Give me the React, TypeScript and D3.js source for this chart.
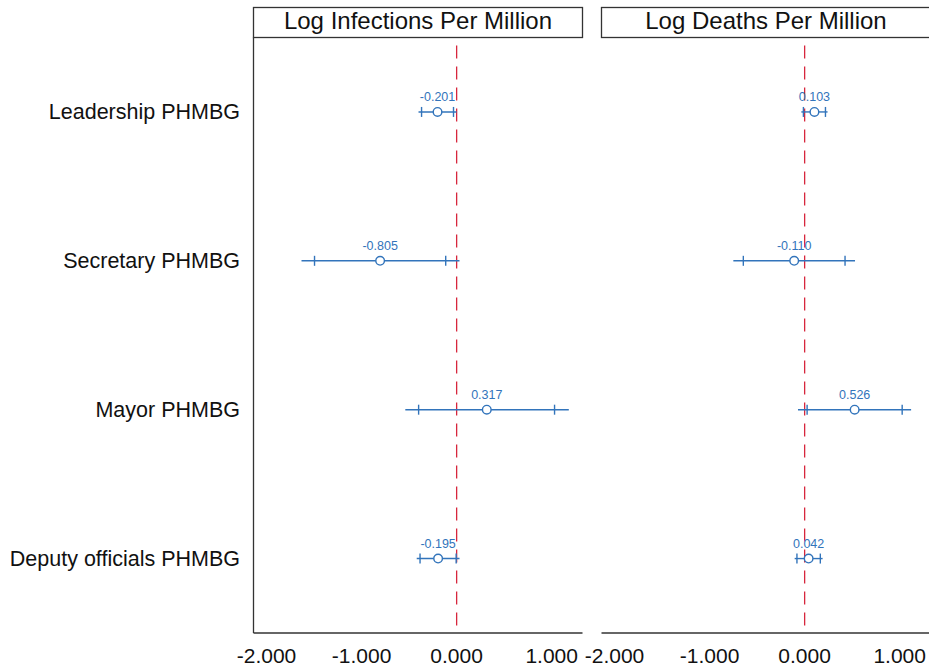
import React from "react";
import * as d3 from "d3";

const categories = ["Leadership PHMBG", "Secretary PHMBG", "Mayor PHMBG", "Deputy officials PHMBG"];
const panelTitles = ["Log Infections Per Million", "Log Deaths Per Million"];

const infCoef = [-0.201, -0.805, 0.317, -0.195];
const infLo95 = [-0.401, -1.632, -0.54, -0.42];
const infHi95 = [-0.001, 0.03, 1.18, 0.03];
const infLo90 = [-0.369, -1.495, -0.40, -0.385];
const infHi90 = [-0.033, -0.115, 1.03, -0.005];

const dthCoef = [0.103, -0.110, 0.526, 0.042];
const dthLo95 = [-0.035, -0.75, -0.07, -0.105];
const dthHi95 = [0.241, 0.53, 1.12, 0.189];
const dthLo90 = [-0.013, -0.645, 0.026, -0.081];
const dthHi90 = [0.219, 0.425, 1.026, 0.165];

const tickValues = [-2, -1, 0, 1];
const xDomain: [number, number] = [-2.137, 1.324];

const W = 929;
const H = 667;
const FONT = "'Liberation Sans', Arial, Helvetica, sans-serif";
const BLUE = "#3274bb";
const RED = "#d7263d";
const FRAME = "#333333";

const panels = [
  { title: panelTitles[0], coef: infCoef, lo95: infLo95, hi95: infHi95, lo90: infLo90, hi90: infHi90, x0: 253.5, x1: 582.5, leftAxis: true },
  { title: panelTitles[1], coef: dthCoef, lo95: dthLo95, hi95: dthHi95, lo90: dthLo90, hi90: dthHi90, x0: 601.5, x1: 930.5, leftAxis: false },
];

const headerTop = 7.5;
const plotTop = 37.5;
const plotBottom = 633;

const locale = d3.formatLocale({ decimal: ".", thousands: ",", grouping: [3], currency: ["", ""], minus: "-" });
const fmt = locale.format(".3f");

export default function App() {
  const y = d3.scalePoint<string>().domain(categories).range([plotTop, plotBottom]).padding(0.5);

  return (
    <svg width={W} height={H} style={{ position: "absolute", left: 0, top: 0, background: "#fff" }} fontFamily={FONT}>
      <rect x={0} y={0} width={W} height={H} fill="#fff" />
      {categories.map((c) => (
        <text key={c} x={240} y={y(c)!} dy="0.35em" textAnchor="end" fontSize={21.5} fill="#111">
          {c}
        </text>
      ))}
      {panels.map((p, pi) => {
        const x = d3.scaleLinear().domain(xDomain).range([p.x0, p.x1]);
        return (
          <g key={pi}>
            <rect x={p.x0} y={headerTop} width={p.x1 - p.x0} height={plotTop - headerTop} fill="#fff" stroke={FRAME} strokeWidth={1.3} />
            <text x={(p.x0 + p.x1) / 2} y={29} textAnchor="middle" fontSize={24} fill="#111">
              {p.title}
            </text>
            {p.leftAxis && <line x1={p.x0} x2={p.x0} y1={plotTop} y2={plotBottom} stroke={FRAME} strokeWidth={1.3} />}
            <line x1={p.x0} x2={p.x1} y1={plotBottom} y2={plotBottom} stroke={FRAME} strokeWidth={1.3} />
            {tickValues.map((t) => (
              <text key={t} x={x(t)} y={662.5} textAnchor="middle" fontSize={21} fill="#111">
                {fmt(t)}
              </text>
            ))}
            <line
              x1={x(0)}
              x2={x(0)}
              y1={plotTop}
              y2={plotBottom}
              stroke={RED}
              strokeWidth={1.3}
              strokeDasharray="13 8"
              strokeDashoffset={13}
            />
            {categories.map((c, i) => {
              const cy = y(c)!;
              return (
                <g key={c}>
                  <line x1={x(p.lo95[i])} x2={x(p.hi95[i])} y1={cy} y2={cy} stroke={BLUE} strokeWidth={1.4} />
                  <line x1={x(p.lo90[i])} x2={x(p.lo90[i])} y1={cy - 5} y2={cy + 5} stroke={BLUE} strokeWidth={1.4} />
                  <line x1={x(p.hi90[i])} x2={x(p.hi90[i])} y1={cy - 5} y2={cy + 5} stroke={BLUE} strokeWidth={1.4} />
                  <circle cx={x(p.coef[i])} cy={cy} r={4.3} fill="#fff" stroke={BLUE} strokeWidth={1.4} />
                  <text x={x(p.coef[i])} y={cy - 10.5} textAnchor="middle" fontSize={12.5} fill={BLUE}>
                    {fmt(p.coef[i])}
                  </text>
                </g>
              );
            })}
          </g>
        );
      })}
    </svg>
  );
}
